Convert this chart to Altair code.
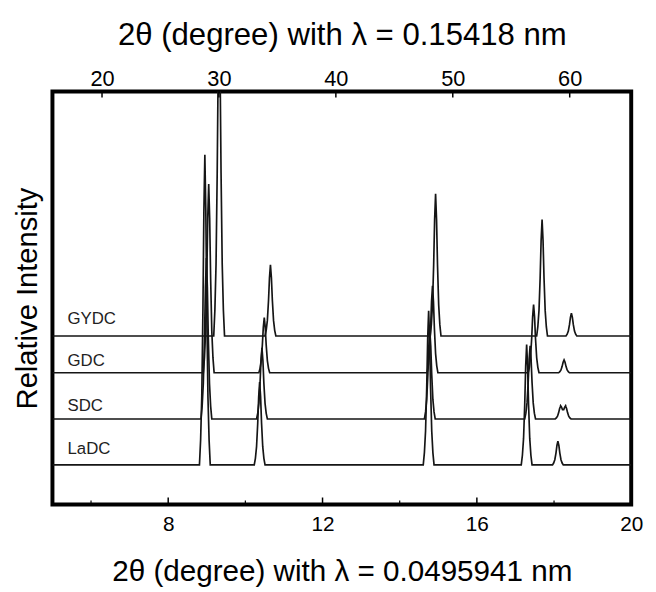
import altair as alt
import pandas as pd
import numpy as np

# ---- data ----
samples = ["LaDC", "SDC", "GDC", "GYDC"]
baselines = [40.0, 86.5, 133.3, 170.5]

ladc_pos = [8.95, 10.37, 14.75, 17.29, 18.10]
ladc_h = [314, 84, 156, 122, 24]
sdc_pos = [8.99, 10.43, 14.78, 17.38, 18.17, 18.30]
sdc_h = [163, 72, 90, 74, 13, 13]
gdc_pos = [9.05, 10.49, 14.85, 17.47, 18.26]
gdc_h = [191, 56, 88, 69, 13]
gydc_pos = [9.32, 10.65, 14.93, 17.69, 18.45]
gydc_h = [330, 72, 144, 118, 23]

# peak profile shape (offset in degrees, relative height)
shape_dx = [-0.14, -0.11, -0.08, -0.05, -0.025, 0.0, 0.025, 0.05, 0.08, 0.11, 0.14]
shape_rel = [0.0, 0.08, 0.22, 0.5, 0.82, 1.0, 0.82, 0.5, 0.22, 0.08, 0.0]

x_min, x_max = 5, 20
bottom_major = [8, 12, 16, 20]
bottom_minor = [6, 10, 14, 18]
top_ticks = [20, 30, 40, 50, 60]
top_domain = [15.76, 65.26]

label_names = ["LaDC", "SDC", "GDC", "GYDC"]
label_x = [5.39, 5.39, 5.39, 5.39]
label_y = [51, 95, 140, 183]

# ---- build traces ----
peaks = {"LaDC": (ladc_pos, ladc_h), "SDC": (sdc_pos, sdc_h),
         "GDC": (gdc_pos, gdc_h), "GYDC": (gydc_pos, gydc_h)}
rows = []
for s, b in zip(samples, baselines):
    pos, hs = peaks[s]
    xs = {x_min, x_max}
    for c in pos:
        for d in shape_dx:
            xs.add(round(c + d, 4))
    for x in sorted(xs):
        y = b
        for c, h in zip(pos, hs):
            y += h * float(np.interp(x - c, shape_dx, shape_rel, left=0, right=0))
        rows.append({"sample": s, "x": x, "y": y})
df = pd.DataFrame(rows)

FONT = "Liberation Sans"
W, H = 586, 418

xscale = alt.Scale(domain=[x_min, x_max], nice=False, zero=False)
yscale = alt.Scale(domain=[0, H], nice=False, zero=False)

bottom_axis = alt.Axis(
    values=bottom_major, ticks=False, tickSize=0, domain=False, grid=False,
    labelFont=FONT, labelFontSize=21, labelColor="black", labelBaseline="alphabetic",
    labelPadding=26, labelFlush=False,
    title="2θ (degree) with λ = 0.0495941 nm", titleFont=FONT, titleFontSize=30,
    titleFontWeight="normal", titleColor="black", titleY=77, titleBaseline="alphabetic",
)
y_axis = alt.Axis(
    labels=False, ticks=False, domain=False, grid=False,
    title="Relative Intensity", titleFont=FONT, titleFontSize=29.5,
    titleFontWeight="normal", titleColor="black", titleX=-16.5, titleBaseline="alphabetic",
)


def xb(field):
    return alt.X(field, type="quantitative", scale=xscale, axis=bottom_axis)


def yb(field):
    return alt.Y(field, type="quantitative", scale=yscale, axis=y_axis)


traces = alt.Chart(df).mark_line(clip=True, strokeWidth=1.7, color="#151515").encode(
    x=xb("x"), y=yb("y"), detail="sample:N", order="x:Q"
)

major_df = pd.DataFrame({"t": bottom_major})
minor_df = pd.DataFrame({"t": bottom_minor})
bmajor = alt.Chart(major_df).mark_rule(color="black", strokeWidth=1.5).encode(
    x=xb("t"), y=alt.value(H), y2=alt.value(H - 7)
)
bminor = alt.Chart(minor_df).mark_rule(color="black", strokeWidth=1.2).encode(
    x=xb("t"), y=alt.value(H), y2=alt.value(H - 4)
)

lab_df = pd.DataFrame({"name": label_names, "lx": label_x, "ly": label_y})
labels = alt.Chart(lab_df).mark_text(
    align="left", baseline="alphabetic", fontSize=17, font=FONT, color="#222"
).encode(x=xb("lx"), y=yb("ly"), text="name:N")

bottom_layer = alt.layer(traces, bmajor, bminor, labels)

top_df = pd.DataFrame({"tt": top_ticks})
top_axis = alt.Axis(
    orient="top", values=top_ticks, ticks=False, tickSize=0, domain=False, grid=False,
    labelFont=FONT, labelFontSize=22, labelColor="black", labelBaseline="alphabetic",
    labelPadding=5.7, labelFlush=False,
    title="2θ (degree) with λ = 0.15418 nm", titleFont=FONT, titleFontSize=31.5,
    titleFontWeight="normal", titleColor="black", titleY=-48, titleBaseline="alphabetic",
)
top_layer = alt.Chart(top_df).mark_rule(color="black", strokeWidth=1.5).encode(
    x=alt.X("tt:Q", scale=alt.Scale(domain=top_domain, nice=False, zero=False), axis=top_axis),
    y=alt.value(0), y2=alt.value(6),
)

chart = alt.layer(bottom_layer, top_layer).resolve_scale(x="independent").properties(
    width=W, height=H,
    autosize=alt.AutoSizeParams(type="none"),
    padding={"left": 45, "top": 81, "right": 17, "bottom": 82},
    background="white",
).configure_view(stroke="black", strokeWidth=4)

chart.save("out.html", embed_options={"renderer": "svg", "actions": False})
